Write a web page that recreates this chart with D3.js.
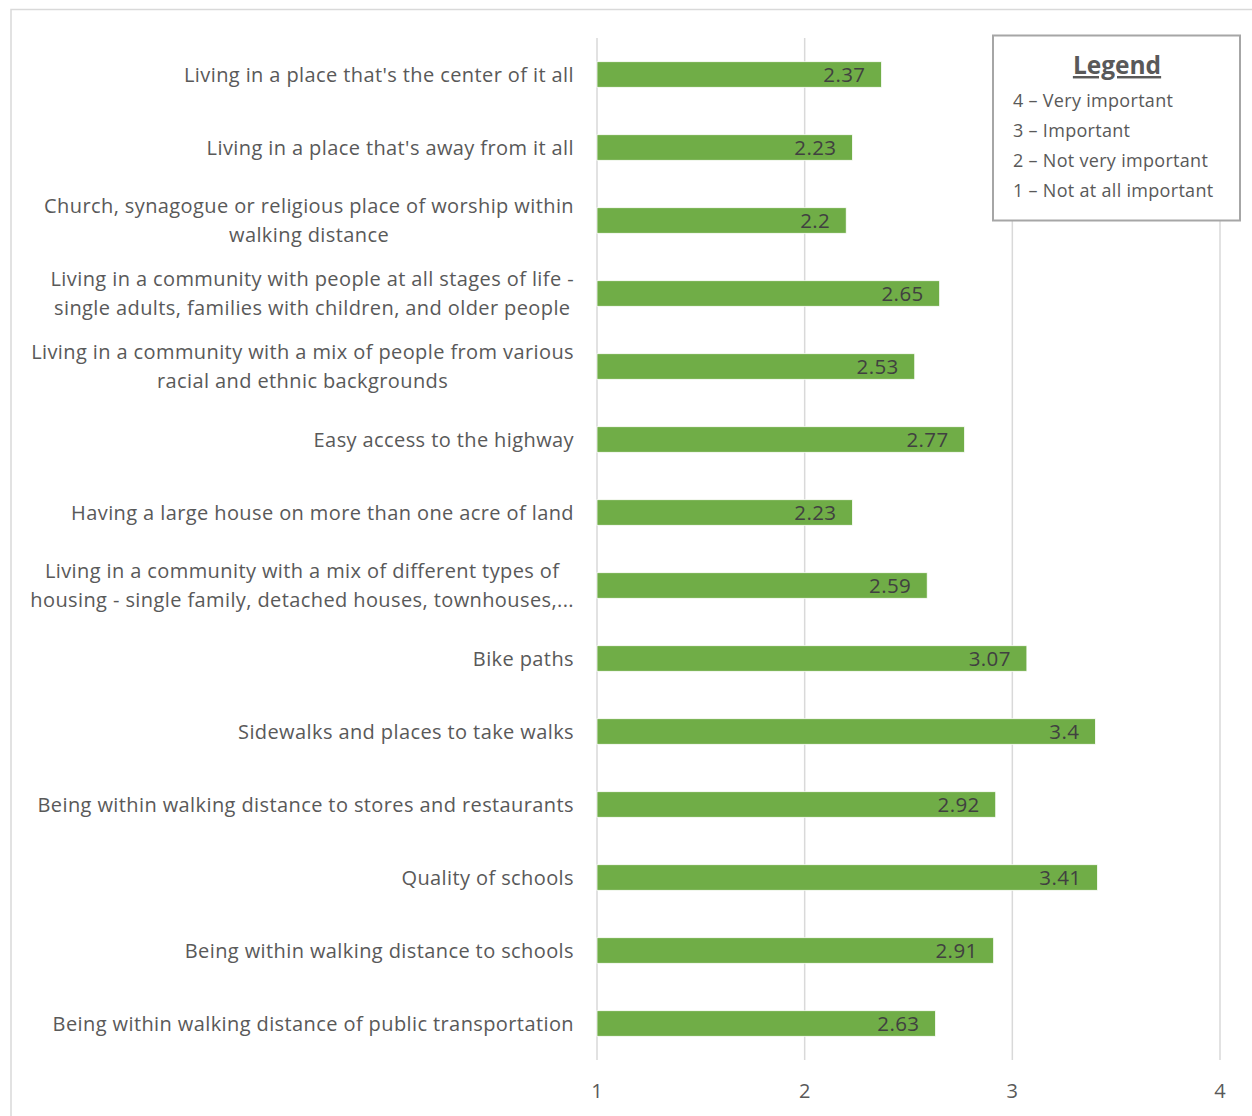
<!DOCTYPE html>
<html>
<head>
<meta charset="utf-8">
<script src="https://cdn.jsdelivr.net/npm/d3@7"></script>
<style>
html,body{margin:0;padding:0;background:#fff;}
svg{display:block;font-family:"Open Sans",Lato,sans-serif;}
</style>
</head>
<body>
<svg id="chart" width="1252" height="1116"></svg>
<script>
const categories = [
  ["Living in a place that's the center of it all"],
  ["Living in a place that's away from it all"],
  ["Church, synagogue or religious place of worship within", "walking distance"],
  ["Living in a community with people at all stages of life -", "single adults, families with children, and older people"],
  ["Living in a community with a mix of people from various", "racial and ethnic backgrounds"],
  ["Easy access to the highway"],
  ["Having a large house on more than one acre of land"],
  ["Living in a community with a mix of different types of", "housing - single family, detached houses, townhouses,..."],
  ["Bike paths"],
  ["Sidewalks and places to take walks"],
  ["Being within walking distance to stores and restaurants"],
  ["Quality of schools"],
  ["Being within walking distance to schools"],
  ["Being within walking distance of public transportation"]
];
const values = [2.37, 2.23, 2.2, 2.65, 2.53, 2.77, 2.23, 2.59, 3.07, 3.4, 2.92, 3.41, 2.91, 2.63];
const valueLabels = ["2.37", "2.23", "2.2", "2.65", "2.53", "2.77", "2.23", "2.59", "3.07", "3.4", "2.92", "3.41", "2.91", "2.63"];
const xTicks = [1, 2, 3, 4];
const legendTitle = "Legend";
const legendItems = ["4 \u2013 Very important", "3 \u2013 Important", "2 \u2013 Not very important", "1 \u2013 Not at all important"];

const svg = d3.select("#chart");
const FONT = 20;
const LS = 0.4;

// chart border
svg.append("rect").attr("x", 11).attr("y", 9.5).attr("width", 1260).attr("height", 1130)
  .attr("fill", "#fff").attr("stroke", "#d9d9d9").attr("stroke-width", 1.5);

const x = d3.scaleLinear().domain([1, 4]).range([597, 1220]);
const y = d3.scaleBand().domain(d3.range(categories.length)).range([38, 1060]).paddingInner(0.65).paddingOuter(0.325);

// gridlines
svg.append("g").selectAll("line").data(xTicks).join("line")
  .attr("x1", d => x(d)).attr("x2", d => x(d))
  .attr("y1", 38).attr("y2", 1060)
  .attr("stroke", "#d9d9d9").attr("stroke-width", 1.5);

// bars
svg.append("g").selectAll("rect").data(values).join("rect")
  .attr("x", x(1)).attr("y", (d, i) => y(i))
  .attr("width", d => x(d) - x(1)).attr("height", y.bandwidth())
  .attr("fill", "#70ad47").attr("stroke", "#fff").attr("stroke-width", 0.75);

// value labels
svg.append("g").selectAll("text").data(values).join("text")
  .attr("x", d => x(d) - 16).attr("y", (d, i) => y(i) + y.bandwidth() / 2)
  .attr("dy", "0.36em").attr("text-anchor", "end")
  .attr("font-size", 20.5).attr("letter-spacing", LS).attr("fill", "#404040")
  .text((d, i) => valueLabels[i]);

// category labels
const labelRight = 574;
const lg = svg.append("g").attr("fill", "#595959").attr("font-size", FONT).attr("letter-spacing", LS);
categories.forEach((lines, i) => {
  const cy = y(i) + y.bandwidth() / 2;
  if (lines.length === 1) {
    lg.append("text").attr("x", labelRight).attr("y", cy).attr("dy", "0.36em")
      .attr("text-anchor", "end").text(lines[0]);
  } else {
    const ts = lines.map((l, j) => lg.append("text").attr("y", cy + (j - (lines.length - 1) / 2) * 29)
      .attr("dy", "0.36em").attr("text-anchor", "middle").text(l));
    const w = d3.max(ts, t => t.node().getComputedTextLength());
    ts.forEach(t => t.attr("x", labelRight - w / 2));
  }
});

// x axis tick labels
svg.append("g").selectAll("text").data(xTicks).join("text")
  .attr("x", d => x(d)).attr("y", 1091).attr("dy", "0.36em")
  .attr("text-anchor", "middle").attr("font-size", FONT).attr("fill", "#595959")
  .text(d => d);

// legend
const leg = svg.append("g");
leg.append("rect").attr("x", 993).attr("y", 35.5).attr("width", 247).attr("height", 185)
  .attr("fill", "#fff").attr("stroke", "#a6a6a6").attr("stroke-width", 2);
leg.append("text").attr("x", 1117).attr("y", 74).attr("text-anchor", "middle")
  .attr("font-size", 24.5).attr("font-weight", "bold").attr("fill", "#595959")
  .attr("text-decoration", "underline").text(legendTitle);
leg.selectAll("text.item").data(legendItems).join("text").attr("class", "item")
  .attr("x", 1013).attr("y", (d, i) => 101 + i * 30).attr("dy", "0.36em")
  .attr("font-size", 18).attr("letter-spacing", 0.3).attr("fill", "#595959").text(d => d);
</script>
</body>
</html>
